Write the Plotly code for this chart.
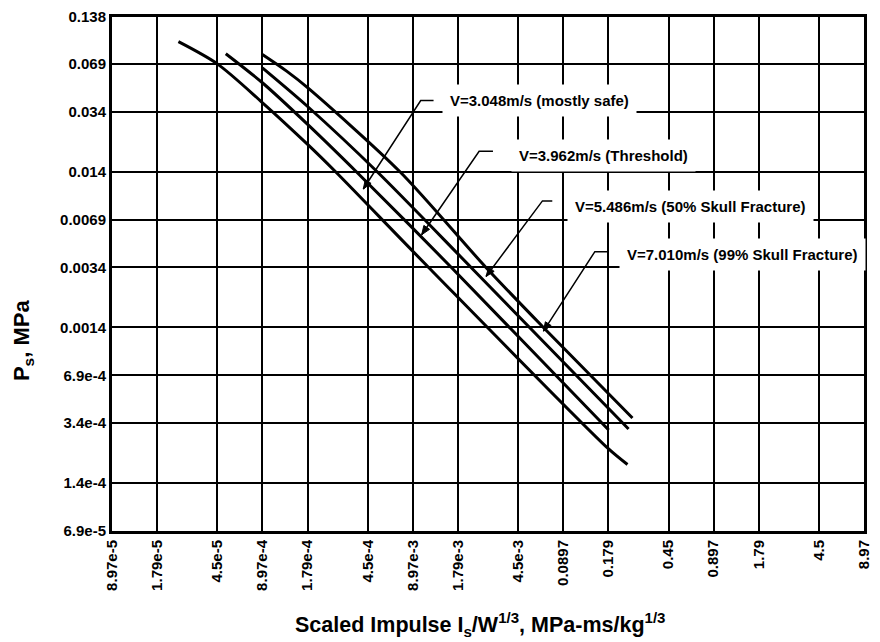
import math
import plotly.graph_objects as go

# Axis ticks (log scales, 1-2-5 spacing)
x_tick_vals = [8.97e-5, 1.79e-4, 4.5e-4, 8.97e-4, 1.79e-3, 4.5e-3, 8.97e-3, 1.79e-2,
               4.5e-2, 8.97e-2, 0.179, 0.45, 0.897, 1.79, 4.5, 8.97]
x_tick_text = ["8.97e-5", "1.79e-5", "4.5e-5", "8.97e-4", "1.79e-4", "4.5e-4", "8.97e-3",
               "1.79e-3", "4.5e-3", "0.0897", "0.179", "0.45", "0.897", "1.79", "4.5", "8.97"]
y_tick_vals = [0.138, 0.069, 0.034, 0.014, 0.0069, 0.0034, 0.0014, 6.9e-4, 3.4e-4, 1.4e-4, 6.9e-5]
y_tick_text = ["0.138", "0.069", "0.034", "0.014", "0.0069", "0.0034", "0.0014",
               "6.9e-4", "3.4e-4", "1.4e-4", "6.9e-5"]

# Skull-fracture P-I curves (scaled impulse, side-on pressure)
v3048_x = [2.48e-4, 4.5e-4, 8.84e-4, 1.80e-3, 2.75e-3, 1.143e-2, 0.179, 0.240]
v3048_y = [0.0958, 0.069, 0.0394, 0.0209, 0.014, 0.0034, 2.33e-4, 1.845e-4]

v3962_x = [5.12e-4, 8.97e-4, 1.80e-3, 3.78e-3, 1.62e-2, 0.180]
v3962_y = [0.0802, 0.0522, 0.0281, 0.014, 0.0034, 3.07e-4]

v5486_x = [8.97e-4, 1.80e-3, 5.20e-3, 2.19e-2, 0.244]
v5486_y = [0.0650, 0.0366, 0.014, 0.0034, 3.115e-4]

v7010_x = [8.97e-4, 1.30e-3, 1.80e-3, 7.37e-3, 2.75e-2, 0.0663, 0.259]
v7010_y = [0.0793, 0.0620, 0.0484, 0.014, 0.0034, 0.0014, 3.667e-4]

curves = [(v3048_x, v3048_y), (v3962_x, v3962_y), (v5486_x, v5486_y), (v7010_x, v7010_y)]

labels = ["V=3.048m/s (mostly safe)", "V=3.962m/s (Threshold)",
          "V=5.486m/s (50% Skull Fracture)", "V=7.010m/s (99% Skull Fracture)"]

FONT = "Liberation Sans, Arial, sans-serif"

fig = go.Figure()
for cx, cy in curves:
    fig.add_trace(go.Scatter(x=cx, y=cy, mode="lines",
                             line=dict(color="black", width=3, shape="spline", smoothing=0.8),
                             showlegend=False, hoverinfo="skip"))

# Callout placement (paper fractions): label centre, leader tip, leader elbow, horizontal end
label_pos = [(0.5684, 0.8375), (0.6539, 0.7311), (0.7691, 0.6306), (0.8388, 0.5377)]
tips = [(0.3342, 0.6654), (0.4118, 0.5764), (0.4974, 0.4952), (0.5737, 0.3888)]
elbow = [(0.4105, 0.8375), (0.4882, 0.7389), (0.5724, 0.6422), (0.6421, 0.5435)]
hend = [0.4276, 0.5066, 0.5855, 0.6592]
PW, PH = 760, 517  # plot area size, used to keep arrowheads undistorted

for (lx, ly), (tx, ty), (ex, ey), he, txt in zip(label_pos, tips, elbow, hend, labels):
    fig.add_shape(type="path", xref="paper", yref="paper",
                  path=f"M {he},{ey} L {ex},{ey} L {tx},{ty}",
                  line=dict(color="black", width=1.5))
    # small filled arrowhead at the leader tip
    dx, dy = (tx - ex) * PW, (ty - ey) * PH
    n = math.hypot(dx, dy)
    ux, uy = dx / n, dy / n
    L, W = 9, 3.5
    bx, by = -ux * L, -uy * L
    p1 = (tx, ty)
    p2 = (tx + (bx - uy * W) / PW, ty + (by + ux * W) / PH)
    p3 = (tx + (bx + uy * W) / PW, ty + (by - ux * W) / PH)
    fig.add_shape(type="path", xref="paper", yref="paper",
                  path=f"M {p1[0]},{p1[1]} L {p2[0]},{p2[1]} L {p3[0]},{p3[1]} Z",
                  fillcolor="black", line=dict(color="black", width=1))
    fig.add_annotation(xref="paper", yref="paper", x=lx, y=ly, xanchor="center",
                       yanchor="middle", text=txt, showarrow=False,
                       font=dict(family=FONT, size=15, color="black", weight="bold"),
                       bgcolor="white", borderpad=7)

# Axis titles
fig.add_annotation(xref="paper", yref="paper", x=-0.118, y=0.37, xanchor="center",
                   yanchor="middle", textangle=-90,
                   text="P<sub>s</sub>, MPa", showarrow=False,
                   font=dict(family=FONT, size=22, color="black", weight="bold"))
fig.add_annotation(xref="paper", yref="paper", x=0.49, y=-0.182, xanchor="center",
                   yanchor="middle",
                   text="Scaled Impulse I<sub>s</sub>/W<sup>1/3</sup>, MPa-ms/kg<sup>1/3</sup>",
                   showarrow=False,
                   font=dict(family=FONT, size=21.5, color="black", weight="bold"))

axis_common = dict(showgrid=True, gridcolor="black", gridwidth=2, showline=True,
                   linecolor="black", linewidth=3, mirror=True, zeroline=False, ticks="",
                   tickfont=dict(family=FONT, size=15, color="black", weight="bold"))

fig.update_xaxes(type="log", range=[-4.0472, 0.9528], tickmode="array",
                 tickvals=x_tick_vals, ticktext=x_tick_text, tickangle=-90, **axis_common)
fig.update_yaxes(type="log", range=[-4.1612, -0.8601], tickmode="array",
                 tickvals=y_tick_vals, ticktext=y_tick_text, **axis_common)

fig.update_layout(width=880, height=642, margin=dict(l=112, r=8, t=14, b=111),
                  paper_bgcolor="white", plot_bgcolor="white",
                  font=dict(family=FONT, color="black"))

fig.write_html("out.html")
